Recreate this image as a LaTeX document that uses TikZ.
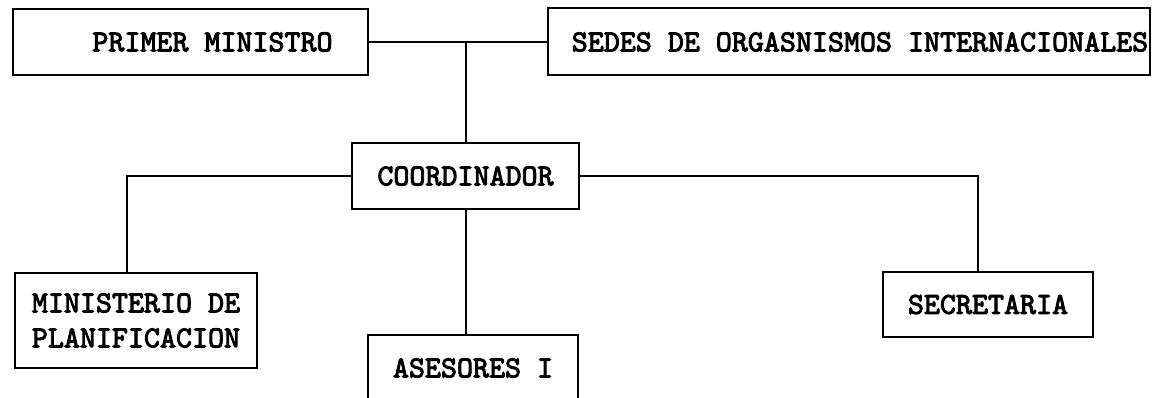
\documentclass[tikz,border=0pt]{standalone}
\usepackage{fontspec}
\newfontfamily\orgfont{lmmono10-regular}[Extension=.otf, FakeBold=3]
\usepackage{tikz}
\usetikzlibrary{positioning,calc}
\tikzset{
  orgbox/.style={
    draw, line width=2pt, inner sep=0pt, align=center,
    font=\orgfont\fontsize{30.5}{35}\selectfont
  },
  orgline/.style={line width=2pt}
}
\begin{document}
\begin{tikzpicture}[x=1pt, y=-1pt]
  \useasboundingbox[fill=white] (0,0) rectangle (1154,398);
  % top row
  \node[orgbox, minimum width=355, minimum height=66] (pm) at (190.5,42) {\hspace*{44pt}PRIMER MINISTRO};
  \node[orgbox, minimum width=602, minimum height=67] (sedes) at (849,42) {\hspace*{22pt}SEDES DE ORGASNISMOS INTERNACIONALES};
  % middle
  \node[orgbox, minimum width=227, minimum height=66] (coord) at (465.5,176) {COORDINADOR};
  % bottom row
  \node[orgbox, align=left, minimum width=242, minimum height=95] (minplan) at (136,320.5) {MINISTERIO DE\\PLANIFICACION};
  \node[orgbox, minimum width=210, minimum height=66] (ases) at (473,368) {ASESORES I};
  \node[orgbox, minimum width=210, minimum height=65] (secre) at (988,304.5) {SECRETARIA};
  % connectors
  \draw[orgline] (pm) -- (sedes);
  \draw[orgline] (coord.north) -- (coord.north |- pm.east);
  \draw[orgline] (coord.west) -| ([xshift=-9]minplan.north);
  \draw[orgline] (coord.east) -| ([xshift=-10]secre.north);
  \draw[orgline] (coord.south) -- (coord.south |- ases.north);
\end{tikzpicture}
\end{document}
